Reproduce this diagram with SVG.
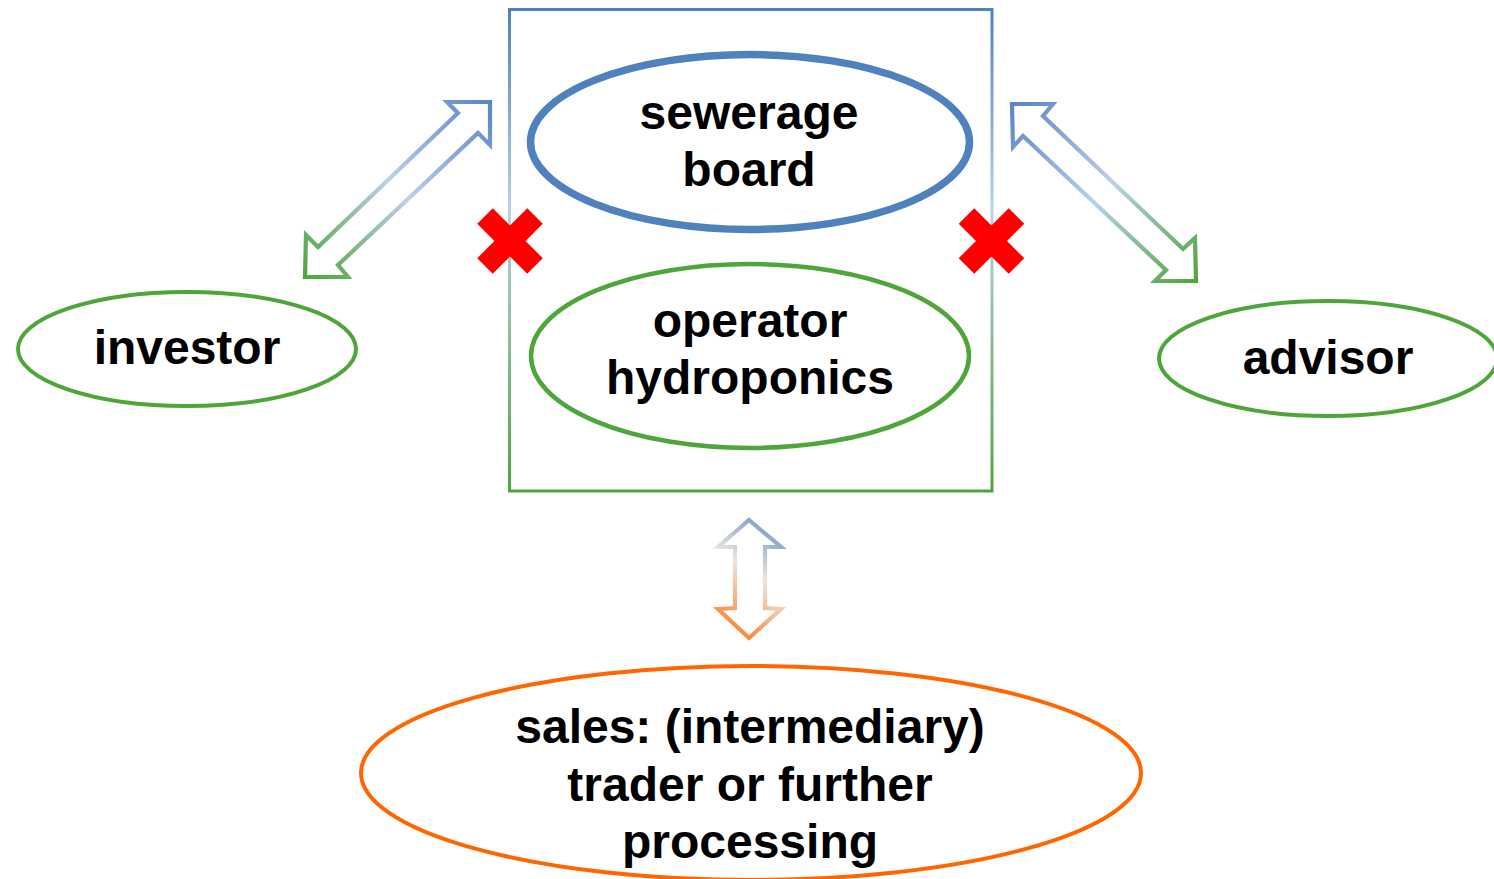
<svg xmlns="http://www.w3.org/2000/svg" width="1494" height="879" viewBox="0 0 1494 879">
<style>
.lbl{font-family:"Liberation Sans",Arial,sans-serif;font-weight:bold;font-size:48px;fill:#000;text-anchor:middle}
.ell{fill:none}
.arr{fill:none;stroke-width:4.2;stroke-linejoin:miter}
.x{stroke:#FF0000;stroke-width:22;stroke-linecap:butt}
</style>
<defs>
<linearGradient id="gBox" gradientUnits="userSpaceOnUse" x1="0" y1="9" x2="0" y2="491">
<stop offset="0" stop-color="#4F81BD"/>
<stop offset="0.42" stop-color="#BCD0EC"/>
<stop offset="1" stop-color="#4EA63A"/>
</linearGradient>
<linearGradient id="gL" gradientUnits="userSpaceOnUse" x1="490" y1="102" x2="305" y2="277">
<stop offset="0" stop-color="#5A86C2"/>
<stop offset="0.5" stop-color="#BCD0EC"/>
<stop offset="1" stop-color="#4EA63A"/>
</linearGradient>
<linearGradient id="gR" gradientUnits="userSpaceOnUse" x1="1012" y1="104" x2="1196" y2="281">
<stop offset="0" stop-color="#5A86C2"/>
<stop offset="0.5" stop-color="#BCD0EC"/>
<stop offset="1" stop-color="#4EA63A"/>
</linearGradient>
<linearGradient id="gV" gradientUnits="userSpaceOnUse" x1="790" y1="520" x2="712" y2="640">
<stop offset="0" stop-color="#5A86C2"/>
<stop offset="0.45" stop-color="#EAE6DE"/>
<stop offset="1" stop-color="#FF6600"/>
</linearGradient>
</defs>
<g id="box">
<rect x="509.5" y="9.5" width="482.5" height="481.5" fill="none" stroke="url(#gBox)" stroke-width="3"/>
</g>
<g id="sewerage-board">
<ellipse class="ell" cx="750" cy="142" rx="219.5" ry="87.5" stroke="#4F81BD" stroke-width="7.5"/>
<text class="lbl" x="749" y="129">sewerage</text>
<text class="lbl" x="749" y="186">board</text>
</g>
<g id="operator">
<ellipse class="ell" cx="750" cy="356" rx="219" ry="92" stroke="#4EA63A" stroke-width="4.5"/>
<text class="lbl" x="750" y="337">operator</text>
<text class="lbl" x="750" y="394">hydroponics</text>
</g>
<g id="investor">
<ellipse class="ell" cx="187" cy="349" rx="169" ry="57" stroke="#4EA63A" stroke-width="4"/>
<text class="lbl" x="187" y="364">investor</text>
</g>
<g id="advisor">
<ellipse class="ell" cx="1328" cy="358.5" rx="169" ry="57.5" stroke="#4EA63A" stroke-width="4"/>
<text class="lbl" x="1328" y="374">advisor</text>
</g>
<g id="sales">
<ellipse class="ell" cx="751" cy="773" rx="390" ry="107" stroke="#FF6600" stroke-width="4"/>
<text class="lbl" x="750" y="743">sales: (intermediary)</text>
<text class="lbl" x="750" y="801">trader or further</text>
<text class="lbl" x="750" y="858">processing</text>
</g>
<g id="connectors">
<polygon class="arr" stroke="url(#gL)" points="490,102 447,102 458,113 318,247 306,235 305,277 348,277 338,265 478,133 490,145"/>
<polygon class="arr" stroke="url(#gR)" points="1012,104 1053,104 1043,116 1183,249 1195,238 1196,281 1155,281 1166,270 1023,136 1013,147"/>
<polygon class="arr" stroke="url(#gV)" points="749,520 781,547 765,547 765,608 781,609 749,638 718,609 735,608 735,547 718,547"/>
</g>
<g id="cross-left">
<line class="x" x1="485" y1="216" x2="535" y2="266"/>
<line class="x" x1="535" y1="216" x2="485" y2="266"/>
</g>
<g id="cross-right">
<line class="x" x1="966.5" y1="216" x2="1016.5" y2="266"/>
<line class="x" x1="1016.5" y1="216" x2="966.5" y2="266"/>
</g>
</svg>
